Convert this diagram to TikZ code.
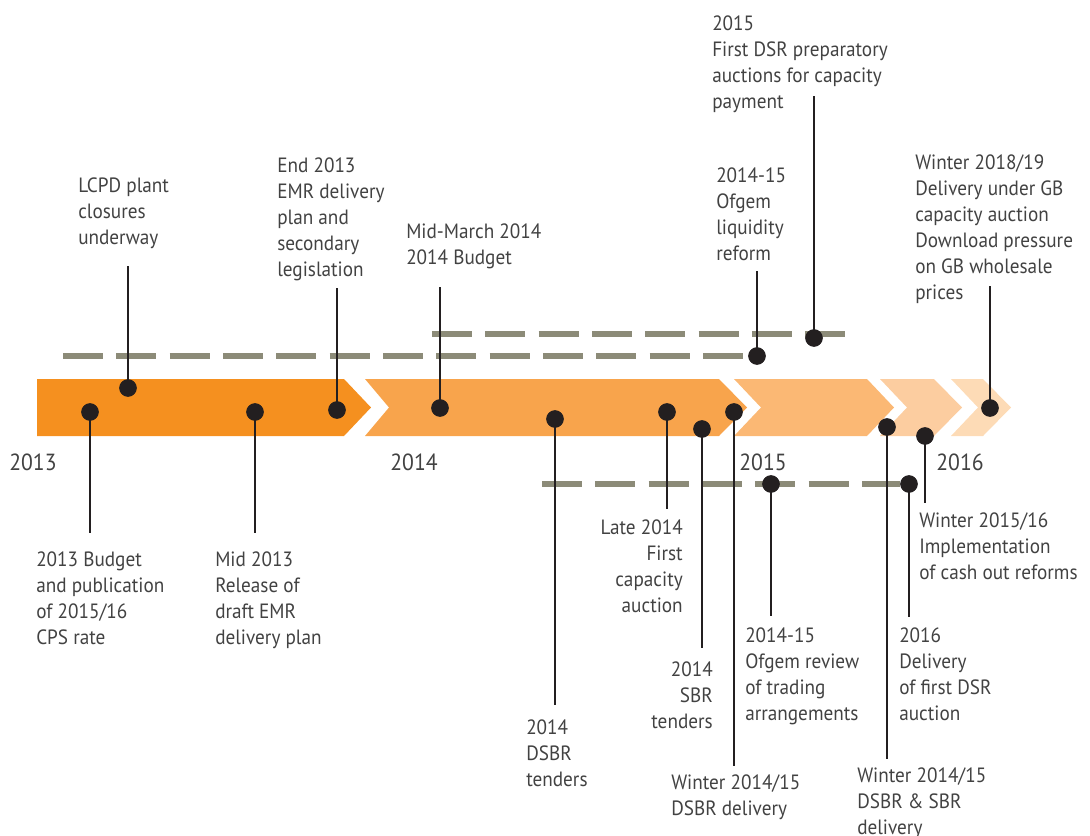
\documentclass[tikz,border=0pt]{standalone}
\usepackage{fontspec}
\setmainfont{PT Sans}[FakeStretch=0.93]
\usepackage{xcolor}
\usetikzlibrary{positioning}

\definecolor{segA}{HTML}{F5901F}
\definecolor{segB}{HTML}{F8A44C}
\definecolor{segC}{HTML}{FBB874}
\definecolor{segD}{HTML}{FCCDA0}
\definecolor{segE}{HTML}{FDDBB6}
\definecolor{trackgray}{HTML}{8C8B78}
\definecolor{stemblack}{HTML}{231F20}
\definecolor{txtgray}{HTML}{424242}

\newcommand\lblfont{\fontsize{15.5}{19.5}\selectfont}
\newcommand\yearfont{\fontsize{17.5}{21}\selectfont}

\begin{document}
\begin{tikzpicture}[
  x=0.75pt,y=-0.75pt,
  lbl/.style={align=left,anchor=north west,inner sep=0pt,font=\lblfont,text=txtgray},
  lblr/.style={lbl,align=right,anchor=north east},
  dot/.style={circle,fill=stemblack,inner sep=0pt,minimum size=13pt},
  stem/.style={draw=stemblack,line width=2.2pt},
  track/.style={draw=trackgray,line width=3.8pt,dash pattern=on 30pt off 10pt},
  year/.style={font=\yearfont,text=txtgray,inner sep=0pt}
]
\useasboundingbox (0,0) rectangle (1090,836);

% dashed tracks
\coordinate (trkA0) at (63,356);   \coordinate (trkA1) at (757,356);
\coordinate (trkB0) at (432,334);  \coordinate (trkB1) at (855,334);
\coordinate (trkC0) at (542,484);  \coordinate (trkC1) at (900,484);
\draw[track] (trkA0) -- (trkA1);
\draw[track] (trkB0) -- (trkB1);
\draw[track] (trkC0) -- (trkC1);

% chevron band
\fill[segA] (37,379) -- (344,379) -- (371,407.5) -- (344,436) -- (37,436) -- cycle;
\fill[segB] (365,379) -- (719,379) -- (747,407.5) -- (719,436) -- (365,436) -- (389,407.5) -- cycle;
\fill[segC] (734,379) -- (867,379) -- (894,407.5) -- (867,436) -- (734,436) -- (761,407.5) -- cycle;
\fill[segD] (880,379) -- (934,379) -- (962,407.5) -- (934,436) -- (880,436) -- (907,407.5) -- cycle;
\fill[segE] (951,379) -- (983,379) -- (1011,407.5) -- (983,436) -- (951,436) -- (978,407.5) -- cycle;

% years
\node[year] (y2013) at (33,462) {2013};
\node[year] (y2014) at (414,462) {2014};
\node[year] (y2015) at (763,462) {2015};
\node[year] (y2016) at (960,462) {2016};

% events above the band
\node[dot] (lcpd) at (128,388) {};
\coordinate (lcpdE) at (128,266);
\node[lbl] (lcpdT) at (78,178) {LCPD plant\\closures\\underway};

\node[dot] (emrEnd) at (337,410) {};
\coordinate (emrEndE) at (337,288);
\node[lbl] (emrEndT) at (277,158) {End 2013\\EMR delivery\\plan and\\secondary\\legislation};

\node[dot] (budget14) at (440,408) {};
\coordinate (budget14E) at (440,287);
\node[lbl] (budget14T) at (406,224) {Mid-March 2014\\2014 Budget};

\node[dot] (liquid) at (757,356) {};
\coordinate (liquidE) at (757,271);
\node[lbl] (liquidT) at (716,168) {2014-15\\Ofgem\\liquidity\\reform};

\node[dot] (dsrPrep) at (814,338) {};
\coordinate (dsrPrepE) at (814,96);
\node[lbl] (dsrPrepT) at (712,16) {2015\\First DSR preparatory\\auctions for capacity\\payment};

\node[dot] (gbDel) at (990,408) {};
\coordinate (gbDelE) at (990,286);
\node[lbl] (gbDelT) at (915,155) {Winter 2018/19\\Delivery under GB\\capacity auction\\Download pressure\\on GB wholesale\\prices};

% events below the band
\node[dot] (cps) at (90,412) {};
\coordinate (cpsE) at (90,533);
\node[lbl] (cpsT) at (36,552) {2013 Budget\\and publication\\of 2015/16\\CPS rate};

\node[dot] (emrDraft) at (255,412) {};
\coordinate (emrDraftE) at (255,533);
\node[lbl] (emrDraftT) at (215,552) {Mid 2013\\Release of\\draft EMR\\delivery plan};

\node[dot] (dsbrTen) at (555,419) {};
\coordinate (dsbrTenE) at (555,705);
\node[lbl] (dsbrTenT) at (526,720) {2014\\DSBR\\tenders};

\node[dot] (capAuc) at (667,412) {};
\coordinate (capAucE) at (667,509);
\node[lblr] (capAucT) at (683,520) {Late 2014\\First\\capacity\\auction};

\node[dot] (sbrTen) at (702,429) {};
\coordinate (sbrTenE) at (702,648);
\node[lblr] (sbrTenT) at (713,662) {2014\\SBR\\tenders};

\node[dot] (dsbrDel) at (734,412) {};
\coordinate (dsbrDelE) at (734,766);
\node[lbl] (dsbrDelT) at (671,775) {Winter 2014/15\\DSBR delivery};

\node[dot] (trading) at (771,484) {};
\coordinate (tradingE) at (771,616);
\node[lbl] (tradingT) at (745,628) {2014-15\\Ofgem review\\of trading\\arrangements};

\node[dot] (sbrDel) at (887,427) {};
\coordinate (sbrDelE) at (887,759);
\node[lbl] (sbrDelT) at (857,768) {Winter 2014/15\\DSBR \& SBR\\delivery};

\node[dot] (dsrDel) at (909,484) {};
\coordinate (dsrDelE) at (909,617);
\node[lbl] (dsrDelT) at (899,628) {2016\\Delivery\\of first DSR\\auction};

\node[dot] (cashOut) at (925,436) {};
\coordinate (cashOutE) at (925,503);
\node[lbl] (cashOutT) at (919,513) {Winter 2015/16\\Implementation\\of cash out reforms};

% stems
\foreach \ev in {lcpd,emrEnd,budget14,liquid,dsrPrep,gbDel,cps,emrDraft,dsbrTen,capAuc,sbrTen,dsbrDel,trading,sbrDel,dsrDel,cashOut}
  \draw[stem] (\ev.center) -- (\ev E);

% dots on top of the stems
\foreach \ev in {lcpd,emrEnd,budget14,liquid,dsrPrep,gbDel,cps,emrDraft,dsbrTen,capAuc,sbrTen,dsbrDel,trading,sbrDel,dsrDel,cashOut}
  \fill[stemblack] (\ev) circle[radius=6.5pt];
\end{tikzpicture}
\end{document}
